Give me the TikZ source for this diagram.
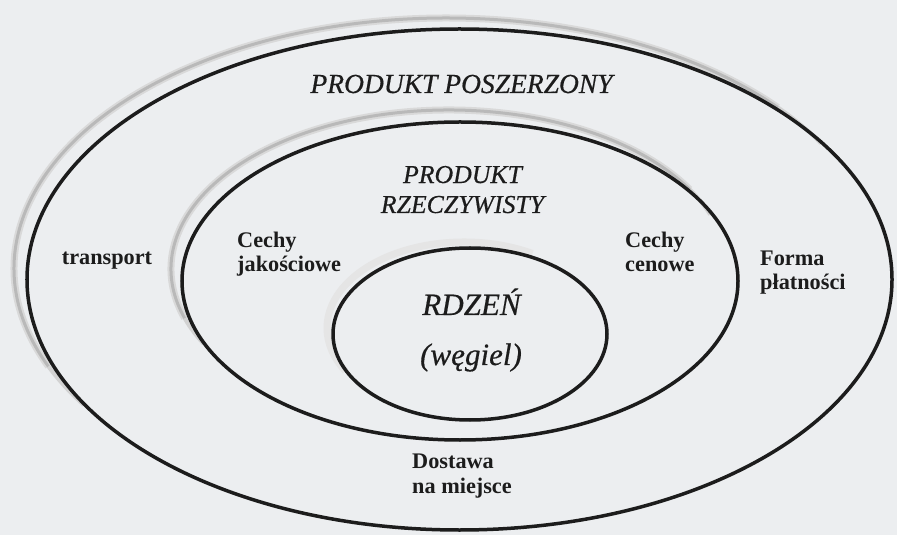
\documentclass[tikz,border=0pt]{standalone}
\usepackage{fontspec}
\setmainfont{Liberation Serif}
\newfontfamily\titlefont[FakeBold=0.5]{Liberation Serif Italic}
\usepackage{tikz}
\definecolor{paper}{RGB}{236,238,240}
\definecolor{ink}{RGB}{28,28,28}

\begin{document}
\begin{tikzpicture}[x=0.3mm,y=0.3mm,
     ring/.style={line width=1.05mm,ink},
     shadewide/.style={line width=2.1mm,gray!30},
     shadecore/.style={line width=0.9mm,gray!55},
     shadetail/.style={line width=1.2mm,gray!35},
     title/.style={font=\fontsize{23.5}{27}\selectfont\titlefont,ink,inner sep=0pt},
     subtitle/.style={font=\fontsize{22}{25.6}\selectfont\titlefont,ink,inner sep=0pt,align=center},
     core/.style={font=\fontsize{26.5}{30}\selectfont\titlefont,ink,inner sep=0pt},
     feature/.style={font=\fontsize{19}{21.3}\selectfont\bfseries,ink,inner sep=0pt,align=left}]
     % paper
     \fill[paper] (0,0) rectangle (897,535);
     \useasboundingbox (0,0) rectangle (897,535);

     % centres of the rings and of their shadows
     \coordinate (O1) at (459.5,255.5);
     \coordinate (O2) at (460,254);
     \coordinate (O3) at (470,201);
     \coordinate (S1) at (446.5,266.5);
     \coordinate (S2) at (449,266);
     \coordinate (S3) at (464,207);

     % shadows (upper left side only), thinner towards the ends
     \draw[shadetail] (S1) ++({129.75mm*cos(30)},{75.15mm*sin(30)})
          arc[start angle=30,end angle=213,x radius=129.75mm,y radius=75.15mm];
     \draw[shadewide] (S1) ++({129.75mm*cos(40)},{75.15mm*sin(40)})
          arc[start angle=40,end angle=203,x radius=129.75mm,y radius=75.15mm];
     \draw[shadecore] (S1) ++({129.75mm*cos(40)},{75.15mm*sin(40)})
          arc[start angle=40,end angle=203,x radius=129.75mm,y radius=75.15mm];
     \draw[shadetail] (S2) ++({83.4mm*cos(20)},{47.7mm*sin(20)})
          arc[start angle=20,end angle=208,x radius=83.4mm,y radius=47.7mm];
     \draw[shadewide] (S2) ++({83.4mm*cos(30)},{47.7mm*sin(30)})
          arc[start angle=30,end angle=198,x radius=83.4mm,y radius=47.7mm];
     \draw[shadecore] (S2) ++({83.4mm*cos(30)},{47.7mm*sin(30)})
          arc[start angle=30,end angle=198,x radius=83.4mm,y radius=47.7mm];
     \draw[shadewide,gray!20] (S3) ++({41.1mm*cos(60)},{25.8mm*sin(60)})
          arc[start angle=60,end angle=210,x radius=41.1mm,y radius=25.8mm];

     % rings
     \draw[ring] (O1) ellipse[x radius=129.75mm,y radius=75.15mm];
     \draw[ring] (O2) ellipse[x radius=83.4mm,y radius=47.7mm];
     \draw[ring] (O3) ellipse[x radius=41.1mm,y radius=25.8mm];

     % ring titles
     \node[title,anchor=base] (poszerzony) at (461.5,442) {PRODUKT POSZERZONY};
     \node[subtitle,anchor=base] (rzeczywisty) at (462.5,322) {PRODUKT\\RZECZYWISTY};
     \node[core,anchor=base] (rdzen) at (471.5,220) {RDZEŃ};
     \node[core,anchor=base] (wegiel) at (471,170) {(węgiel)};

     % features
     \node[feature,anchor=base] (transport) at (107,270) {transport};
     \node[feature,anchor=base west] (jakosc) at (237,263) {Cechy\\jakościowe};
     \node[feature,anchor=base west] (cena) at (625,263) {Cechy\\cenowe};
     \node[feature,anchor=base west] (platnosc) at (760,245) {Forma\\płatności};
     \node[feature,anchor=base west] (dostawa) at (412,42) {Dostawa\\na miejsce};
\end{tikzpicture}
\end{document}
